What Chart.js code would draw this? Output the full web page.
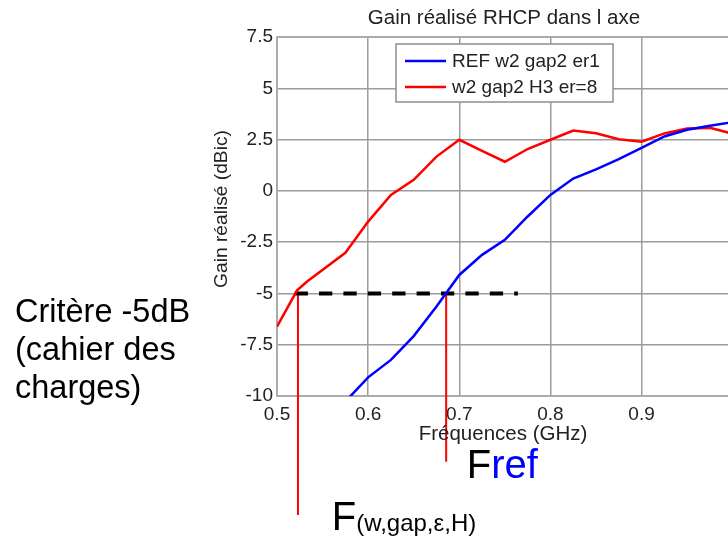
<!DOCTYPE html>
<html><head><meta charset="utf-8">
<script src="https://cdn.jsdelivr.net/npm/chart.js@4.4.1/dist/chart.umd.min.js"></script>
<style>
html,body{margin:0;padding:0;overflow:hidden;background:#fff;width:728px;height:543px}
#wrap{position:absolute;left:0;top:0;width:745px;height:543px}
</style></head><body>
<div id="wrap"><canvas id="c" width="745" height="543"></canvas></div>
<script>
// ---- data ----
const seriesLabels = ['REF w2 gap2 er1', 'w2 gap2 H3 er=8'];
const freqRef = [0.55, 0.575, 0.6, 0.625, 0.65, 0.675, 0.7, 0.725, 0.75, 0.775, 0.8, 0.825, 0.85, 0.875, 0.9, 0.925, 0.95, 0.975, 1.0];
const gainRef = [-11.3, -10.27, -9.09, -8.24, -7.08, -5.64, -4.10, -3.12, -2.39, -1.25, -0.2, 0.6, 1.05, 1.55, 2.1, 2.65, 2.98, 3.17, 3.35];
const freqH3 = [0.5, 0.522, 0.533, 0.575, 0.6, 0.625, 0.65, 0.675, 0.7, 0.725, 0.75, 0.775, 0.8, 0.825, 0.85, 0.875, 0.9, 0.925, 0.95, 0.975, 1.0];
const gainH3 = [-6.62, -4.85, -4.42, -3.02, -1.5, -0.2, 0.54, 1.67, 2.49, 1.95, 1.42, 2.04, 2.49, 2.94, 2.81, 2.52, 2.40, 2.80, 3.04, 3.07, 2.78];
const criterionFreq = [0.5193, 0.7643];
const criterionGain = [-5, -5];
const markerFwFreq = [0.523, 0.523];
const markerFwGain = [-5, -15.8];
const markerRefFreq = [0.6856, 0.6856];
const markerRefGain = [-5, -13.2];
const xTicks = [0.5, 0.6, 0.7, 0.8, 0.9, 1.0];
const yTicks = [-10, -7.5, -5, -2.5, 0, 2.5, 5, 7.5];
const chartTitle = 'Gain réalisé RHCP dans l axe';
const xTitle = 'Fréquences (GHz)';
const yTitle = 'Gain réalisé (dBic)';
const critLines = ['Critère -5dB', '(cahier des', 'charges)'];

const pts = (xs, ys) => xs.map((x, i) => ({x, y: ys[i]}));
const FONT = '"Liberation Sans", Arial, sans-serif';

const annot = {
  id: 'annot',
  beforeDatasetsDraw(chart) {
    const {ctx, chartArea: a} = chart;
    ctx.save();
    ctx.strokeStyle = '#ababab';
    ctx.lineWidth = 2;
    ctx.strokeRect(a.left, a.top, a.right - a.left, a.bottom - a.top);
    ctx.restore();
  },
  afterDraw(chart) {
    const {ctx} = chart;
    ctx.save();
    // title
    ctx.fillStyle = '#222';
    ctx.textAlign = 'center';
    ctx.textBaseline = 'alphabetic';
    ctx.font = '20.5px ' + FONT;
    ctx.fillText(chartTitle, 504, 24);
    // x title
    ctx.fillText(xTitle, 503, 440);
    // y title
    ctx.save();
    ctx.translate(227, 209);
    ctx.rotate(-Math.PI / 2);
    ctx.font = '19.2px ' + FONT;
    ctx.fillText(yTitle, 0, 0);
    ctx.restore();

    // legend
    const lx = 396, ly = 44, lw = 217, lh = 58;
    ctx.fillStyle = '#fff';
    ctx.fillRect(lx, ly, lw, lh);
    ctx.strokeStyle = '#8f8f8f';
    ctx.lineWidth = 1.5;
    ctx.strokeRect(lx, ly, lw, lh);
    const rows = [61, 87];
    ctx.font = '19px ' + FONT;
    ctx.textAlign = 'left';
    ctx.textBaseline = 'middle';
    [0, 1].forEach(i => {
      const ds = chart.data.datasets[i];
      ctx.strokeStyle = ds.borderColor;
      ctx.lineWidth = 2.5;
      ctx.beginPath();
      ctx.moveTo(405, rows[i]);
      ctx.lineTo(446, rows[i]);
      ctx.stroke();
      ctx.fillStyle = '#222';
      ctx.fillText(ds.label, 452, rows[i] + 1);
    });

    // annotations
    ctx.textBaseline = 'alphabetic';
    ctx.textAlign = 'left';
    ctx.fillStyle = '#000';
    ctx.font = '32.5px ' + FONT;
    critLines.forEach((t, i) => ctx.fillText(t, 15, 322 + i * 38));

    ctx.font = '40px ' + FONT;
    ctx.fillStyle = '#000';
    ctx.fillText('F', 466.7, 478);
    const wF = ctx.measureText('F').width;
    ctx.fillStyle = '#0000ff';
    ctx.fillText('ref', 466.7 + wF, 478);

    ctx.fillStyle = '#000';
    ctx.fillText('F', 331.7, 530);
    const wF2 = ctx.measureText('F').width;
    ctx.font = '24px ' + FONT;
    ctx.fillText('(w,gap,ε,H)', 331.7 + wF2, 531);
    ctx.restore();
  }
};

new Chart(document.getElementById('c'), {
  type: 'line',
  data: {
    datasets: [
      {label: seriesLabels[0], data: pts(freqRef, gainRef), borderColor: '#0000ff', borderWidth: 2.5, pointRadius: 0, tension: 0},
      {label: seriesLabels[1], data: pts(freqH3, gainH3), borderColor: '#ff0000', borderWidth: 2.5, pointRadius: 0, tension: 0},
      {label: 'crit', data: pts(criterionFreq, criterionGain), borderColor: '#000000', borderWidth: 4, borderDash: [13.3, 11.1], borderCapStyle: 'butt', pointRadius: 0, clip: false},
      {label: 'mFw', data: pts(markerFwFreq, markerFwGain), borderColor: '#ff0000', borderWidth: 2, pointRadius: 0, clip: false},
      {label: 'mRef', data: pts(markerRefFreq, markerRefGain), borderColor: '#ff0000', borderWidth: 2, pointRadius: 0, clip: false}
    ]
  },
  options: {
    responsive: false,
    animation: false,
    devicePixelRatio: 1,
    layout: {padding: {left: 0, top: 37, right: 12, bottom: 0}},
    plugins: {legend: {display: false}, title: {display: false}, tooltip: {enabled: false}},
    scales: {
      x: {
        type: 'linear', min: 0.5, max: 1.0,
        afterBuildTicks: s => { s.ticks = xTicks.map(v => ({value: v})); },
        afterFit: s => { s.height = 147; },
        grid: {color: '#9c9c9c', lineWidth: 1.5, drawTicks: false},
        border: {display: false},
        ticks: {padding: 7, color: '#222', font: {family: FONT, size: 19}, maxRotation: 0, autoSkip: false, callback: v => String(v)}
      },
      y: {
        type: 'linear', min: -10, max: 7.5,
        afterBuildTicks: s => { s.ticks = yTicks.map(v => ({value: v})); },
        afterFit: s => { s.width = 277; },
        grid: {color: '#9c9c9c', lineWidth: 1.5, drawTicks: false},
        border: {display: false},
        ticks: {padding: 4, color: '#222', font: {family: FONT, size: 19}, autoSkip: false, callback: v => String(v)}
      }
    }
  },
  plugins: [annot]
});
</script>
</body></html>
